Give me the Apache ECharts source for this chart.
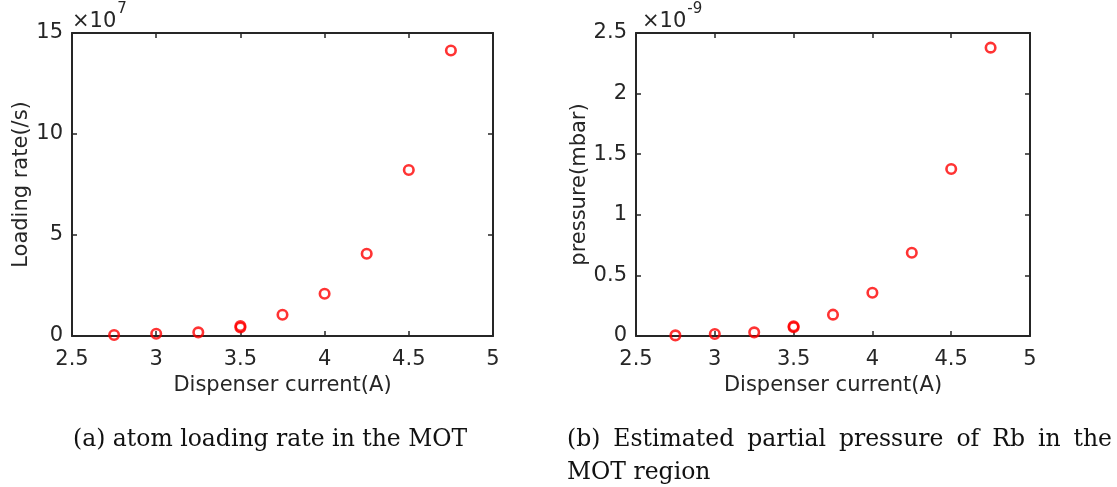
<!DOCTYPE html>
<html>
<head>
<meta charset="utf-8">
<script src="https://cdn.jsdelivr.net/npm/echarts@6/dist/echarts.min.js"></script>
<style>
html,body{margin:0;padding:0;background:#fff;}
#chart{width:1117px;height:487px;}
</style>
</head>
<body>
<div id="chart"></div>
<script>
// ---- data ----
const current = [2.75, 3.0, 3.25, 3.5, 3.5, 3.75, 4.0, 4.25, 4.5, 4.75];
const loadingRate = [0.05e7, 0.11e7, 0.18e7, 0.42e7, 0.49e7, 1.05e7, 2.09e7, 4.07e7, 8.22e7, 14.13e7];
const pressure = [0.005e-9, 0.016e-9, 0.030e-9, 0.072e-9, 0.081e-9, 0.176e-9, 0.357e-9, 0.687e-9, 1.378e-9, 2.379e-9];
const xTicks = [2.5, 3, 3.5, 4, 4.5, 5];
const leftYTicks = [0, 5e7, 10e7, 15e7];
const rightYTicks = [0, 0.5e-9, 1e-9, 1.5e-9, 2e-9, 2.5e-9];
const xTitle = 'Dispenser current(A)';
const leftYTitle = 'Loading rate(/s)';
const rightYTitle = 'pressure(mbar)';
const leftExp = ['×10', '7'];
const rightExp = ['×10', '-9'];
const captionA = '(a) atom loading rate in the MOT';
const captionB1 = ['(b)', 'Estimated', 'partial', 'pressure', 'of', 'Rb', 'in', 'the'];
const captionB2 = 'MOT region';

// ---- styling ----
const INK = '#262626';
const SANS = 'DejaVu Sans';
const SERIF = 'DejaVu Serif';
const LBL = 21;
const CAP = 23.5;

const chart = echarts.init(document.getElementById('chart'), null, {renderer: 'canvas'});

const grids = [
  {left: 72, right: 1117 - 493, top: 33, bottom: 487 - 336},
  {left: 636, right: 1117 - 1030, top: 33, bottom: 487 - 336}
];

function xAxes(gi) {
  const base = {
    gridIndex: gi, type: 'value', min: xTicks[0], max: xTicks[xTicks.length - 1],
    interval: xTicks[1] - xTicks[0],
    splitLine: {show: false},
    axisLine: {show: true, onZero: false, lineStyle: {color: INK, width: 2}},
    axisTick: {show: true, inside: true, length: 5, lineStyle: {color: INK, width: 1.5}}
  };
  return [
    Object.assign({}, base, {
      position: 'bottom',
      name: xTitle, nameLocation: 'middle', nameGap: 33,
      nameTextStyle: {fontFamily: SANS, fontSize: LBL, color: INK},
      axisLabel: {fontFamily: SANS, fontSize: LBL, color: INK, margin: 13}
    }),
    Object.assign({}, base, {position: 'top', axisLabel: {show: false}})
  ];
}
function yAxes(gi, ticks, fmt, title, gap) {
  const base = {
    gridIndex: gi, type: 'value', min: ticks[0], max: ticks[ticks.length - 1],
    interval: ticks[1] - ticks[0],
    splitLine: {show: false},
    axisLine: {show: true, onZero: false, lineStyle: {color: INK, width: 2}},
    axisTick: {show: true, inside: true, length: 5, lineStyle: {color: INK, width: 1.5}}
  };
  return [
    Object.assign({}, base, {
      position: 'left',
      name: title, nameLocation: 'middle', nameGap: gap,
      nameTextStyle: {fontFamily: SANS, fontSize: LBL, color: INK},
      axisLabel: {fontFamily: SANS, fontSize: LBL, color: INK, margin: 9, formatter: fmt}
    }),
    Object.assign({}, base, {position: 'right', axisLabel: {show: false}})
  ];
}

const fmtLeft = v => String(Math.round(v / 1e7));
const fmtRight = v => String(Math.round(v * 1e10) / 10);

const xAxis = xAxes(0).concat(xAxes(1));
const yAxis = yAxes(0, leftYTicks, fmtLeft, leftYTitle, 38).concat(yAxes(1, rightYTicks, fmtRight, rightYTitle, 42));

function pairs(xs, ys) { return xs.map((x, i) => [x, ys[i]]); }
const markerStyle = {color: 'rgba(0,0,0,0)', borderColor: '#ff0000', borderWidth: 2.6};

// text measurement for caption/exponent layout
const mctx = document.createElement('canvas').getContext('2d');
function measure(t, size, fam) { mctx.font = size + 'px ' + fam; return mctx.measureText(t).width; }

const graphics = [];
function expo(x, parts) {
  const w = measure(parts[0], LBL, SANS);
  graphics.push({type: 'text', left: x, top: 11, style: {text: parts[0], fontFamily: SANS, fontSize: LBL, fill: INK}});
  graphics.push({type: 'text', left: x + w + 1, top: 2, style: {text: parts[1], fontFamily: SANS, fontSize: 15, fill: INK}});
}
expo(72, leftExp);
expo(642, rightExp);

graphics.push({type: 'text', left: 73, top: 428, style: {text: captionA, fontFamily: SERIF, fontSize: CAP, fill: '#111'}});
// justified first line of caption (b)
(function () {
  const x0 = 567, x1 = 1112;
  const ws = captionB1.map(w => measure(w, CAP, SERIF));
  const total = ws.reduce((a, b) => a + b, 0);
  const gap = (x1 - x0 - total) / (captionB1.length - 1);
  let x = x0;
  captionB1.forEach((w, i) => {
    graphics.push({type: 'text', left: x, top: 428, style: {text: w, fontFamily: SERIF, fontSize: CAP, fill: '#111'}});
    x += ws[i] + gap;
  });
})();
graphics.push({type: 'text', left: 567, top: 461, style: {text: captionB2, fontFamily: SERIF, fontSize: CAP, fill: '#111'}});

chart.setOption({
  animation: false,
  backgroundColor: '#ffffff',
  grid: grids,
  xAxis: xAxis,
  yAxis: yAxis,
  series: [
    {type: 'scatter', xAxisIndex: 0, yAxisIndex: 0, data: pairs(current, loadingRate),
     symbol: 'circle', symbolSize: 9.5, itemStyle: markerStyle, clip: false, silent: true},
    {type: 'scatter', xAxisIndex: 2, yAxisIndex: 2, data: pairs(current, pressure),
     symbol: 'circle', symbolSize: 9.5, itemStyle: markerStyle, clip: false, silent: true}
  ],
  graphic: graphics
});
</script>
</body>
</html>
